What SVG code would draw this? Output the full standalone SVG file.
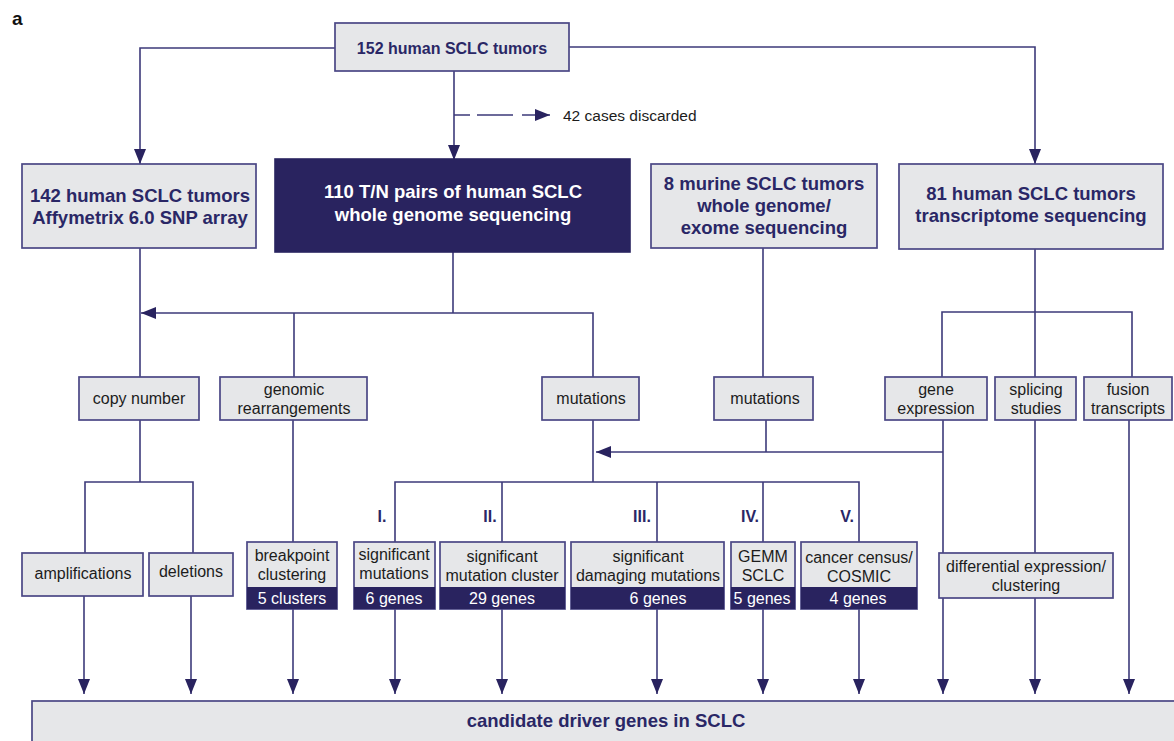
<svg xmlns="http://www.w3.org/2000/svg" width="1174" height="741" viewBox="0 0 1174 741">
<style>
.box{fill:#e6e7e9;stroke:#4a4785;stroke-width:1.7}
.dark{fill:#29235f;stroke:#29235f;stroke-width:1.6}
.band{fill:#29235f}
.ln{fill:none;stroke:#3d3a7a;stroke-width:1.6}
.hb{font-family:"Liberation Sans",Arial,sans-serif;font-weight:bold;font-size:18.5px;fill:#2a2766;text-anchor:middle}
.hw{font-family:"Liberation Sans",Arial,sans-serif;font-weight:bold;font-size:18.5px;fill:#ffffff;text-anchor:middle}
.t{font-family:"Liberation Sans",Arial,sans-serif;font-size:16px;fill:#1c1c1c;text-anchor:middle}
.tw{font-family:"Liberation Sans",Arial,sans-serif;font-size:16px;fill:#ffffff;text-anchor:middle}
.rn{font-family:"Liberation Sans",Arial,sans-serif;font-weight:bold;font-size:16px;fill:#2a2766;text-anchor:middle}
</style>
<defs>
<marker id="ah" markerWidth="15" markerHeight="12" refX="15" refY="6" orient="auto" markerUnits="userSpaceOnUse">
<path d="M0,0 L15,6 L0,12 z" fill="#29235f"/>
</marker>
</defs>
<rect width="1174" height="741" fill="#ffffff"/>
<text x="12" y="25" style="font-family:'Liberation Sans',Arial,sans-serif;font-weight:bold;font-size:19px;fill:#111">a</text>

<g id="connectors">
<path class="ln" d="M335,48 H140 V164" marker-end="url(#ah)"/>
<path class="ln" d="M569,47 H1035 V164" marker-end="url(#ah)"/>
<path class="ln" d="M454,71 V160" marker-end="url(#ah)"/>
<path class="ln" d="M454,115 H550" stroke-dasharray="16 7 36 9 40" marker-end="url(#ah)"/>
<path class="ln" d="M140,248 V377"/>
<path class="ln" d="M453,252 V313"/>
<path class="ln" d="M593,377 V313 H141" marker-end="url(#ah)"/>
<path class="ln" d="M294,313 V377"/>
<path class="ln" d="M763,248 V377"/>
<path class="ln" d="M1035,249 V377"/>
<path class="ln" d="M942,377 V312 H1132 V377"/>
<path class="ln" d="M140,420 V482"/>
<path class="ln" d="M85,553 V482 H193 V553"/>
<path class="ln" d="M293,420 V542"/>
<path class="ln" d="M593,420 V482"/>
<path class="ln" d="M395,542 V482 H859 V542"/>
<path class="ln" d="M502,482 V542"/>
<path class="ln" d="M657,482 V542"/>
<path class="ln" d="M763,482 V542"/>
<path class="ln" d="M766,420 V452"/>
<path class="ln" d="M943,452 H596" marker-end="url(#ah)"/>
<path class="ln" d="M943,420 V694" marker-end="url(#ah)"/>
<path class="ln" d="M1035,420 V553"/>
<path class="ln" d="M1035,598 V694" marker-end="url(#ah)"/>
<path class="ln" d="M1129,420 V694" marker-end="url(#ah)"/>
<path class="ln" d="M84,596 V694" marker-end="url(#ah)"/>
<path class="ln" d="M191,596 V694" marker-end="url(#ah)"/>
<path class="ln" d="M293,609 V694" marker-end="url(#ah)"/>
<path class="ln" d="M395,609 V694" marker-end="url(#ah)"/>
<path class="ln" d="M502,609 V694" marker-end="url(#ah)"/>
<path class="ln" d="M657,609 V694" marker-end="url(#ah)"/>
<path class="ln" d="M763,609 V694" marker-end="url(#ah)"/>
<path class="ln" d="M859,609 V694" marker-end="url(#ah)"/>
<text x="563" y="121" style="font-family:'Liberation Sans',Arial,sans-serif;font-size:15.5px;fill:#1c1c1c">42 cases discarded</text>
<text class="rn" x="382" y="522">I.</text>
<text class="rn" x="490" y="522">II.</text>
<text class="rn" x="642" y="522">III.</text>
<text class="rn" x="750" y="522">IV.</text>
<text class="rn" x="847" y="522">V.</text>
</g>

<g id="n-top">
<rect class="box" x="335" y="23" width="234" height="48"/>
<text class="hb" x="452" y="54" style="font-size:16px">152 human SCLC tumors</text>
</g>
<g id="n-snp">
<rect class="box" x="22" y="164" width="234" height="84"/>
<text class="hb" x="140" y="202">142 human SCLC tumors</text>
<text class="hb" x="140" y="224">Affymetrix 6.0 SNP array</text>
</g>
<g id="n-wgs">
<rect class="dark" x="275" y="159" width="355" height="93"/>
<text class="hw" x="453" y="198">110 T/N pairs of human SCLC</text>
<text class="hw" x="453" y="221">whole genome sequencing</text>
</g>
<g id="n-murine">
<rect class="box" x="651" y="164" width="226" height="84"/>
<text class="hb" x="764" y="190">8 murine SCLC tumors</text>
<text class="hb" x="764" y="212">whole genome/</text>
<text class="hb" x="764" y="234">exome sequencing</text>
</g>
<g id="n-transcriptome">
<rect class="box" x="899" y="164" width="264" height="85"/>
<text class="hb" x="1031" y="200">81 human SCLC tumors</text>
<text class="hb" x="1031" y="222">transcriptome sequencing</text>
</g>

<g id="n-copynumber">
<rect class="box" x="79" y="377" width="120" height="43"/>
<text class="t" x="139" y="404">copy number</text>
</g>
<g id="n-genomic">
<rect class="box" x="220" y="377" width="147" height="43"/>
<text class="t" x="294" y="395">genomic</text>
<text class="t" x="294" y="414">rearrangements</text>
</g>
<g id="n-mutations-h">
<rect class="box" x="542" y="377" width="97" height="43"/>
<text class="t" x="591" y="404">mutations</text>
</g>
<g id="n-mutations-m">
<rect class="box" x="714" y="377" width="99" height="43"/>
<text class="t" x="765" y="404">mutations</text>
</g>
<g id="n-geneexpr">
<rect class="box" x="885" y="377" width="102" height="43"/>
<text class="t" x="936" y="395">gene</text>
<text class="t" x="936" y="414">expression</text>
</g>
<g id="n-splicing">
<rect class="box" x="995" y="377" width="81" height="43"/>
<text class="t" x="1036" y="395">splicing</text>
<text class="t" x="1036" y="414">studies</text>
</g>
<g id="n-fusion">
<rect class="box" x="1084" y="377" width="88" height="43"/>
<text class="t" x="1128" y="395">fusion</text>
<text class="t" x="1128" y="414">transcripts</text>
</g>

<g id="n-amp">
<rect class="box" x="22" y="553" width="121" height="43"/>
<text class="t" x="83" y="579">amplifications</text>
</g>
<g id="n-del">
<rect class="box" x="149" y="553" width="84" height="43"/>
<text class="t" x="191" y="577">deletions</text>
</g>
<g id="n-breakpoint">
<rect class="box" x="247" y="542" width="90" height="67"/>
<rect class="band" x="247" y="587" width="90" height="22"/>
<text class="t" x="292" y="561">breakpoint</text>
<text class="t" x="292" y="580">clustering</text>
<text class="tw" x="292" y="604">5 clusters</text>
</g>
<g id="n-sigmut">
<rect class="box" x="354" y="542" width="81" height="67"/>
<rect class="band" x="354" y="587" width="81" height="22"/>
<text class="t" x="394" y="560">significant</text>
<text class="t" x="394" y="579">mutations</text>
<text class="tw" x="394" y="604">6 genes</text>
</g>
<g id="n-sigcluster">
<rect class="box" x="440" y="542" width="125" height="67"/>
<rect class="band" x="440" y="587" width="125" height="22"/>
<text class="t" x="502" y="562">significant</text>
<text class="t" x="502" y="581">mutation cluster</text>
<text class="tw" x="502" y="604">29 genes</text>
</g>
<g id="n-damaging">
<rect class="box" x="571" y="542" width="153" height="67"/>
<rect class="band" x="571" y="587" width="153" height="22"/>
<text class="t" x="648" y="562">significant</text>
<text class="t" x="648" y="581">damaging mutations</text>
<text class="tw" x="658" y="604">6 genes</text>
</g>
<g id="n-gemm">
<rect class="box" x="731" y="542" width="64" height="67"/>
<rect class="band" x="731" y="587" width="64" height="22"/>
<text class="t" x="763" y="562">GEMM</text>
<text class="t" x="763" y="581">SCLC</text>
<text class="tw" x="762" y="604">5 genes</text>
</g>
<g id="n-census">
<rect class="box" x="801" y="542" width="116" height="67"/>
<rect class="band" x="801" y="587" width="116" height="22"/>
<text class="t" x="859" y="563">cancer census/</text>
<text class="t" x="859" y="582">COSMIC</text>
<text class="tw" x="858" y="604">4 genes</text>
</g>
<g id="n-differential">
<rect class="box" x="939" y="553" width="174" height="45"/>
<text class="t" x="1026" y="572">differential expression/</text>
<text class="t" x="1026" y="591">clustering</text>
</g>

<g id="n-candidate">
<rect class="box" x="32" y="701" width="1150" height="46"/>
<text class="hb" x="606" y="727">candidate driver genes in SCLC</text>
</g>
</svg>
